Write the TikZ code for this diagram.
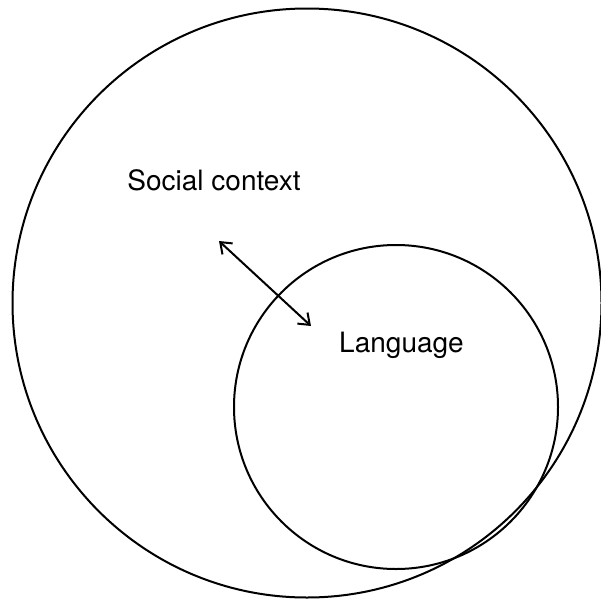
\documentclass[tikz,border=0pt]{standalone}
\usepackage{fontspec}
\setmainfont{TeX Gyre Heros}
\usepackage{tikz}
\usetikzlibrary{arrows.meta,positioning,calc}

\begin{document}
\begin{tikzpicture}[
  x=1pt, y=-1pt,
  ring/.style ={draw, line width=2pt},
  lbl/.style  ={font=\fontsize{28}{30}\selectfont, inner sep=0pt, anchor=base},
  fl/.style   ={{Straight Barb[length=10pt,width=15pt,line width=2pt]}-{Straight Barb[length=10pt,width=15pt,line width=2pt]},
                line width=2pt}]
\useasboundingbox (0,0) rectangle (601,605);

% the two circles
\draw[ring] (307,303) circle[radius=294.5] coordinate (soc);
\draw[ring] (396,407) circle[radius=162] coordinate (lang);

\node[lbl] (socl)  at (214,190.5) {Social context};
\node[lbl] (langl) at (401.5,352) {Language};

% link between the two
\coordinate (Ta) at (219,241);
\coordinate (Tb) at (311,326);
\draw[fl] (Ta) -- (Tb);
\end{tikzpicture}
\end{document}
